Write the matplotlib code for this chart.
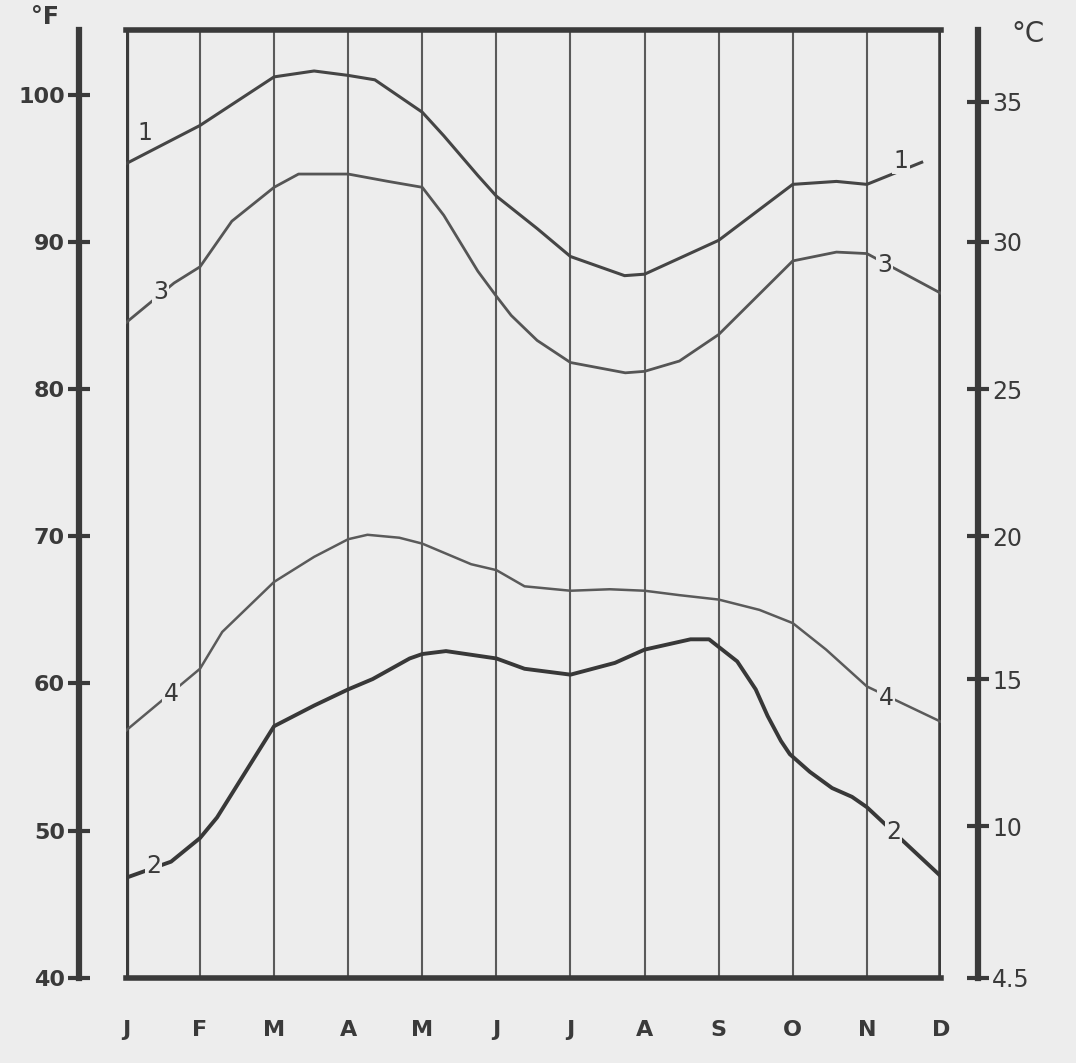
import matplotlib
matplotlib.use('Agg')
import matplotlib.pyplot as plt

# month labels along the bottom, one per grid line
months = ['J', 'F', 'M', 'A', 'M', 'J', 'J', 'A', 'S', 'O', 'N', 'D']

# curves (x in months from J=0, y in deg F)
c1_x = [0, 1, 2, 2.54, 3, 3.36, 4, 4.29, 4.75, 5, 5.55, 6, 6.73, 7, 8, 9, 9.59, 10, 10.74]
c1_y = [95.3, 97.9, 101.2, 101.6, 101.3, 101.0, 98.8, 97.2, 94.5, 93.1, 90.9, 89.0, 87.7, 87.8, 90.1, 93.9, 94.1, 93.9, 95.4]

c3_x = [0, 0.65, 1, 1.43, 2, 2.33, 3, 3.54, 4, 4.29, 4.75, 5, 5.2, 5.55, 6, 6.74, 7, 7.47, 8, 9, 9.59, 10, 11]
c3_y = [84.5, 87.2, 88.3, 91.4, 93.7, 94.6, 94.6, 94.1, 93.7, 91.8, 88.0, 86.3, 85.0, 83.3, 81.8, 81.1, 81.2, 81.9, 83.7, 88.7, 89.3, 89.2, 86.5]

c4_x = [0, 1, 1.30, 2, 2.54, 3, 3.26, 3.69, 4, 4.66, 5, 5.38, 6, 6.53, 7, 7.47, 8, 8.55, 9, 9.45, 10, 11]
c4_y = [56.8, 61.0, 63.5, 66.9, 68.6, 69.8, 70.1, 69.9, 69.5, 68.1, 67.7, 66.6, 66.3, 66.4, 66.3, 66.0, 65.7, 65.0, 64.1, 62.3, 59.8, 57.4]

c2_x = [0, 0.61, 1, 1.23, 1.64, 2, 2.54, 3, 3.33, 3.83, 4, 4.32, 5, 5.38, 6, 6.6, 7, 7.62, 7.87,
        8.25, 8.5, 8.66, 8.84, 8.96, 9.23, 9.53, 9.8, 10, 11]
c2_y = [46.8, 47.9, 49.5, 50.9, 54.2, 57.1, 58.5, 59.6, 60.3, 61.7, 62.0, 62.2, 61.7, 61.0, 60.6, 61.4, 62.3, 63.0, 63.0,
        61.5, 59.6, 57.8, 56.1, 55.2, 54.0, 52.9, 52.3, 51.6, 46.9]

# axis ticks
f_ticks = [40, 50, 60, 70, 80, 90, 100]
c_tick_pos = [40, 50.3, 60.3, 70, 80, 90, 99.5]
c_tick_labels = ['4.5', '10', '15', '20', '25', '30', '35']

# curve number labels (text, x, y)
curve_labels = [
    ('1', 0.26, 97.4), ('3', 0.47, 86.6), ('4', 0.61, 59.3), ('2', 0.37, 47.6),
    ('1', 10.46, 95.5), ('3', 10.24, 88.4), ('4', 10.26, 59.0), ('2', 10.36, 49.9),
]

bg = '#ededed'
ink = '#3a3a3a'

fig = plt.figure(figsize=(10.76, 10.63), dpi=100, facecolor=bg)
ax = fig.add_axes([0.117, 0.080, 0.7575, 0.892], facecolor=bg)
ax.set_xlim(0, 11)
ax.set_ylim(40, 104.4)

# month grid lines
for i in range(1, len(months) - 1):
    ax.axvline(i, color='#5a5a5a', lw=1.5, zorder=1)

# box around the plot
ax.axvline(0, color=ink, lw=4.5, zorder=3)
ax.axvline(11, color=ink, lw=4, zorder=3)
ax.spines['top'].set_linewidth(4)
ax.spines['bottom'].set_linewidth(4)
ax.spines['top'].set_color(ink)
ax.spines['bottom'].set_color(ink)

# curves
ax.plot(c1_x, c1_y, color='#454545', lw=2.2, zorder=4, solid_joinstyle='round')
ax.plot(c3_x, c3_y, color='#555555', lw=2.0, zorder=4, solid_joinstyle='round')
ax.plot(c4_x, c4_y, color='#5a5a5a', lw=1.8, zorder=4, solid_joinstyle='round')
ax.plot(c2_x, c2_y, color='#383838', lw=2.8, zorder=4, solid_joinstyle='round')

for txt, x, y in curve_labels:
    ax.text(x, y, txt, fontsize=17, color=ink, ha='center', va='center', zorder=5,
            bbox=dict(boxstyle='square,pad=0.05', fc=bg, ec='none'))

# left (deg F) axis drawn apart from the box
ax.spines['left'].set_position(('outward', 34))
ax.spines['left'].set_linewidth(4.5)
ax.spines['left'].set_color(ink)
ax.spines['right'].set_visible(False)
ax.set_yticks(f_ticks)
ax.set_yticklabels([str(v) for v in f_ticks], fontweight='bold')
ax.tick_params(axis='y', direction='inout', length=16, width=3, color=ink,
               labelsize=16, labelcolor=ink, pad=2)

ax.set_xticks(range(len(months)))
ax.set_xticklabels(months, fontweight='bold')
ax.tick_params(axis='x', length=0, labelsize=16, labelcolor=ink, pad=30)

# right (deg C) axis
ax2 = ax.twinx()
ax2.set_ylim(ax.get_ylim())
for s in ['left', 'top', 'bottom']:
    ax2.spines[s].set_visible(False)
ax2.spines['right'].set_position(('outward', 27))
ax2.spines['right'].set_linewidth(4.5)
ax2.spines['right'].set_color(ink)
ax2.set_yticks(c_tick_pos)
ax2.set_yticklabels(c_tick_labels)
ax2.tick_params(axis='y', direction='inout', length=16, width=3, color=ink,
                labelsize=17, labelcolor=ink, pad=2)

fig.text(0.042, 0.984, '°F', fontsize=17, color=ink, ha='center', va='center', fontweight='bold')
fig.text(0.955, 0.968, '°C', fontsize=20, color=ink, ha='center', va='center')

plt.savefig('out.png', dpi=100, facecolor=bg)
